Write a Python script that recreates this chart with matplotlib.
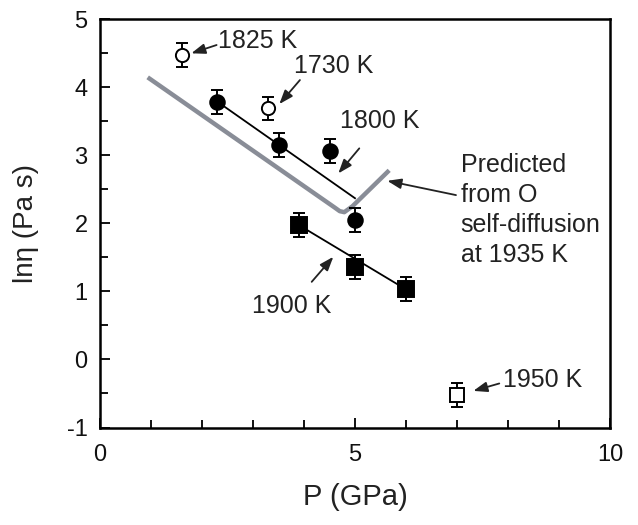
import matplotlib
matplotlib.use("Agg")
import matplotlib.pyplot as plt
from matplotlib.ticker import MultipleLocator

plt.rcParams['font.family'] = ['Liberation Sans', 'DejaVu Sans']
plt.rcParams['axes.unicode_minus'] = False

# viscosity data (ln eta, Pa s) vs pressure (GPa)
p_1800 = [2.3, 3.5, 4.5, 5.0]
ln_1800 = [3.79, 3.15, 3.07, 2.05]
p_1900 = [3.9, 5.0, 6.0]
ln_1900 = [1.975, 1.36, 1.03]
p_open = [1.6, 3.3]          # 1825 K, 1730 K
ln_open = [4.475, 3.69]
p_1950 = [7.0]
ln_1950 = [-0.52]
err = 0.175

# fitted lines (end points)
fit_1800_p = [2.3, 5.0]
fit_1800_ln = [3.79, 2.37]
fit_1900_p = [3.9, 6.0]
fit_1900_ln = [1.975, 1.03]

# prediction from O self-diffusion at 1935 K
pred_p = [0.935, 4.60, 4.70, 4.79, 4.95, 5.67]
pred_ln = [4.147, 2.234, 2.18, 2.165, 2.252, 2.78]

# labels: (text, text x, baseline y of last line, arrow start, arrow tip)
labels = [
    ("1825 K", 2.31, 4.574, (2.286, 4.622), (1.79, 4.50)),
    ("1730 K", 3.80, 4.206, (3.92, 4.107), (3.516, 3.754)),
    ("1800 K", 4.706, 3.40, (5.084, 3.103), (4.673, 2.735)),
    ("1900 K", 2.975, 0.676, (4.151, 1.141), (4.575, 1.509)),
    ("1950 K", 7.908, -0.403, (7.829, -0.353), (7.32, -0.462)),
    ("Predicted\nfrom O\nself-diffusion\nat 1935 K", 7.07, 1.435,
     (6.98, 2.416), (5.633, 2.626)),
]

fig = plt.figure(figsize=(6.38, 5.25), dpi=100)
ax = fig.add_axes([100 / 638, 1 - 427.5 / 525, 510 / 638, 408.2 / 525])

ax.plot(pred_p, pred_ln, color='#898d97', lw=3.2, solid_joinstyle='round',
        solid_capstyle='butt', zorder=2)
ax.plot(fit_1800_p, fit_1800_ln, color='black', lw=1.3, zorder=3)
ax.plot(fit_1900_p, fit_1900_ln, color='black', lw=1.3, zorder=3)

eb = dict(yerr=err, ls='none', ecolor='black', elinewidth=1.4, capsize=4.6,
          capthick=1.4, mec='black', mew=1.4, zorder=4)
ax.errorbar(p_1800, ln_1800, fmt='o', ms=10.5, mfc='black', **eb)
ax.errorbar(p_open, ln_open, fmt='o', ms=9.5, mfc='white', **eb)
ax.errorbar(p_1900, ln_1900, fmt='s', ms=11, mfc='black', **eb)
ax.errorbar(p_1950, ln_1950, fmt='s', ms=10.5, mfc='white', **eb)

for txt, tx, ty, start, tip in labels:
    ax.text(tx, ty, txt, fontsize=18, color='#222222', ha='left',
            va='baseline', linespacing=1.32)
    ax.annotate('', xy=tip, xytext=start,
                arrowprops=dict(arrowstyle='-|>,head_length=0.6,head_width=0.22',
                                mutation_scale=14, lw=1.3, color='#222222',
                                shrinkA=0, shrinkB=0))

ax.set_xlim(0, 10)
ax.set_ylim(-1, 5)
ax.xaxis.set_major_locator(MultipleLocator(5))
ax.xaxis.set_minor_locator(MultipleLocator(1))
ax.yaxis.set_major_locator(MultipleLocator(1))
ax.yaxis.set_minor_locator(MultipleLocator(0.5))
ax.tick_params(which='both', direction='in', top=False, right=False,
               width=1.4, labelsize=17, colors='#111111')
ax.tick_params(which='major', length=7.5)
ax.tick_params(which='minor', length=5.5)
ax.tick_params(axis='x', pad=12)
ax.tick_params(axis='y', pad=9)
for s in ax.spines.values():
    s.set_linewidth(1.8)

ax.set_xlabel('P (GPa)', fontsize=21, color='#222222')
ax.set_ylabel('lnη (Pa s)', fontsize=20, color='#222222')
ax.xaxis.set_label_coords(0.5, -0.135)
ax.yaxis.set_label_coords(-0.12, 0.5)

fig.savefig('out.png', dpi=100)
